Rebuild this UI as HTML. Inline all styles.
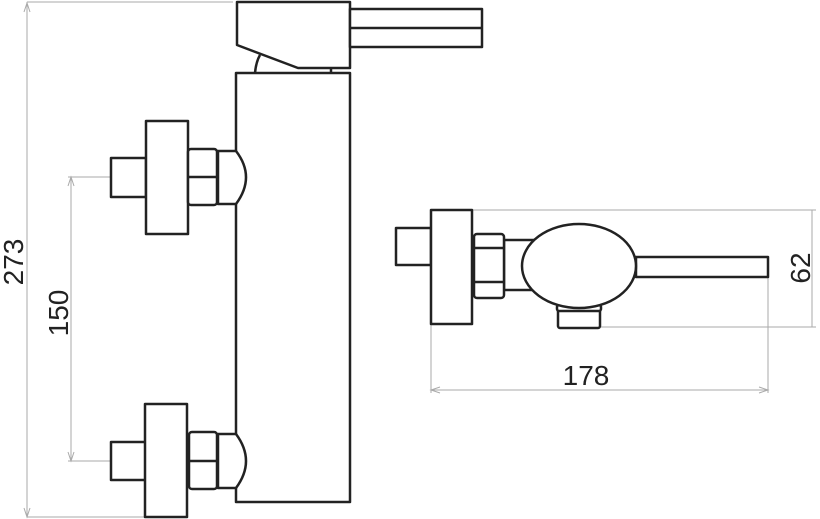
<!DOCTYPE html>
<html><head><meta charset="utf-8"><style>html,body{margin:0;padding:0;background:#fff}svg{display:block}</style></head>
<body>
<svg width="820" height="519" viewBox="0 0 820 519" xmlns="http://www.w3.org/2000/svg">
<g stroke="#aaa" stroke-width="1" fill="none">
 <line x1="27" y1="2" x2="233" y2="2"/>
 <line x1="27" y1="2" x2="27" y2="517"/>
 <line x1="27" y1="517" x2="145" y2="517"/>
 <line x1="71" y1="177" x2="71" y2="461"/>
 <line x1="68" y1="177" x2="112" y2="177"/>
 <line x1="68" y1="461" x2="112" y2="461"/>
 <line x1="472" y1="210" x2="816" y2="210"/>
 <line x1="600" y1="327" x2="816" y2="327"/>
 <line x1="812" y1="210" x2="812" y2="327"/>
 <line x1="431" y1="324" x2="431" y2="393"/>
 <line x1="768" y1="278" x2="768" y2="393"/>
 <line x1="431" y1="390" x2="768" y2="390"/>
 <line x1="112" y1="177" x2="200" y2="177" stroke-dasharray="12,6"/>
 <line x1="112" y1="461" x2="200" y2="461" stroke-dasharray="12,6"/>
 <path d="M24 12 L27 3 L30 12 M24 508 L27 517 L30 508 M68 186 L71 177 L74 186 M68 452 L71 461 L74 452 M440 387 L431 390 L440 393 M759 387 L768 390 L759 393"/>
</g>
<g stroke="#222" stroke-width="2.5" fill="#fff" stroke-linejoin="round">
 <path d="M237 2 H350 V68 H298 L237 45 Z"/>
 <rect x="350" y="9" width="132" height="38"/><line x1="350" y1="28" x2="482" y2="28"/>
 <path d="M255 73 Q256 62 260 55" fill="none"/>
 <line x1="331" y1="68" x2="331" y2="73"/>
 <rect x="236" y="73" width="114" height="429"/>
 <rect x="111" y="158" width="35" height="39"/>
 <rect x="146" y="121" width="42" height="113"/>
 <path d="M218 151 H236 Q256 177 236 204 H218 Z"/>
 <rect x="188" y="149" width="29" height="56" rx="3"/>
 <line x1="188" y1="177" x2="217" y2="177"/>
 <rect x="111" y="442" width="35" height="38"/>
 <rect x="145" y="404" width="42" height="113"/>
 <path d="M218 434 H236 Q256 461 236 488 H218 Z"/>
 <rect x="189" y="432" width="28" height="57" rx="3"/>
 <line x1="189" y1="461" x2="217" y2="461"/>
 <rect x="396" y="228" width="35" height="37"/>
 <rect x="431" y="210" width="41" height="114"/>
 <rect x="504" y="240" width="30" height="50"/>
 <rect x="474" y="234" width="30" height="64" rx="3"/>
 <line x1="474" y1="248" x2="504" y2="248"/><line x1="474" y1="282" x2="504" y2="282"/>
 <rect x="636" y="257" width="132" height="20"/>
 <rect x="558" y="309" width="42" height="19" rx="2"/>
 <rect x="557" y="305" width="44" height="6" rx="2"/>
 <ellipse cx="579" cy="266" rx="57" ry="42"/>
</g>
<g font-family="Liberation Sans, sans-serif" font-size="28" fill="#222" text-anchor="middle">
 <text transform="translate(23,262) rotate(-90)">273</text>
 <text transform="translate(68,313) rotate(-90)">150</text>
 <text transform="translate(810,268) rotate(-90)">62</text>
 <text x="586" y="385">178</text>
</g>
</svg>
</body></html>
